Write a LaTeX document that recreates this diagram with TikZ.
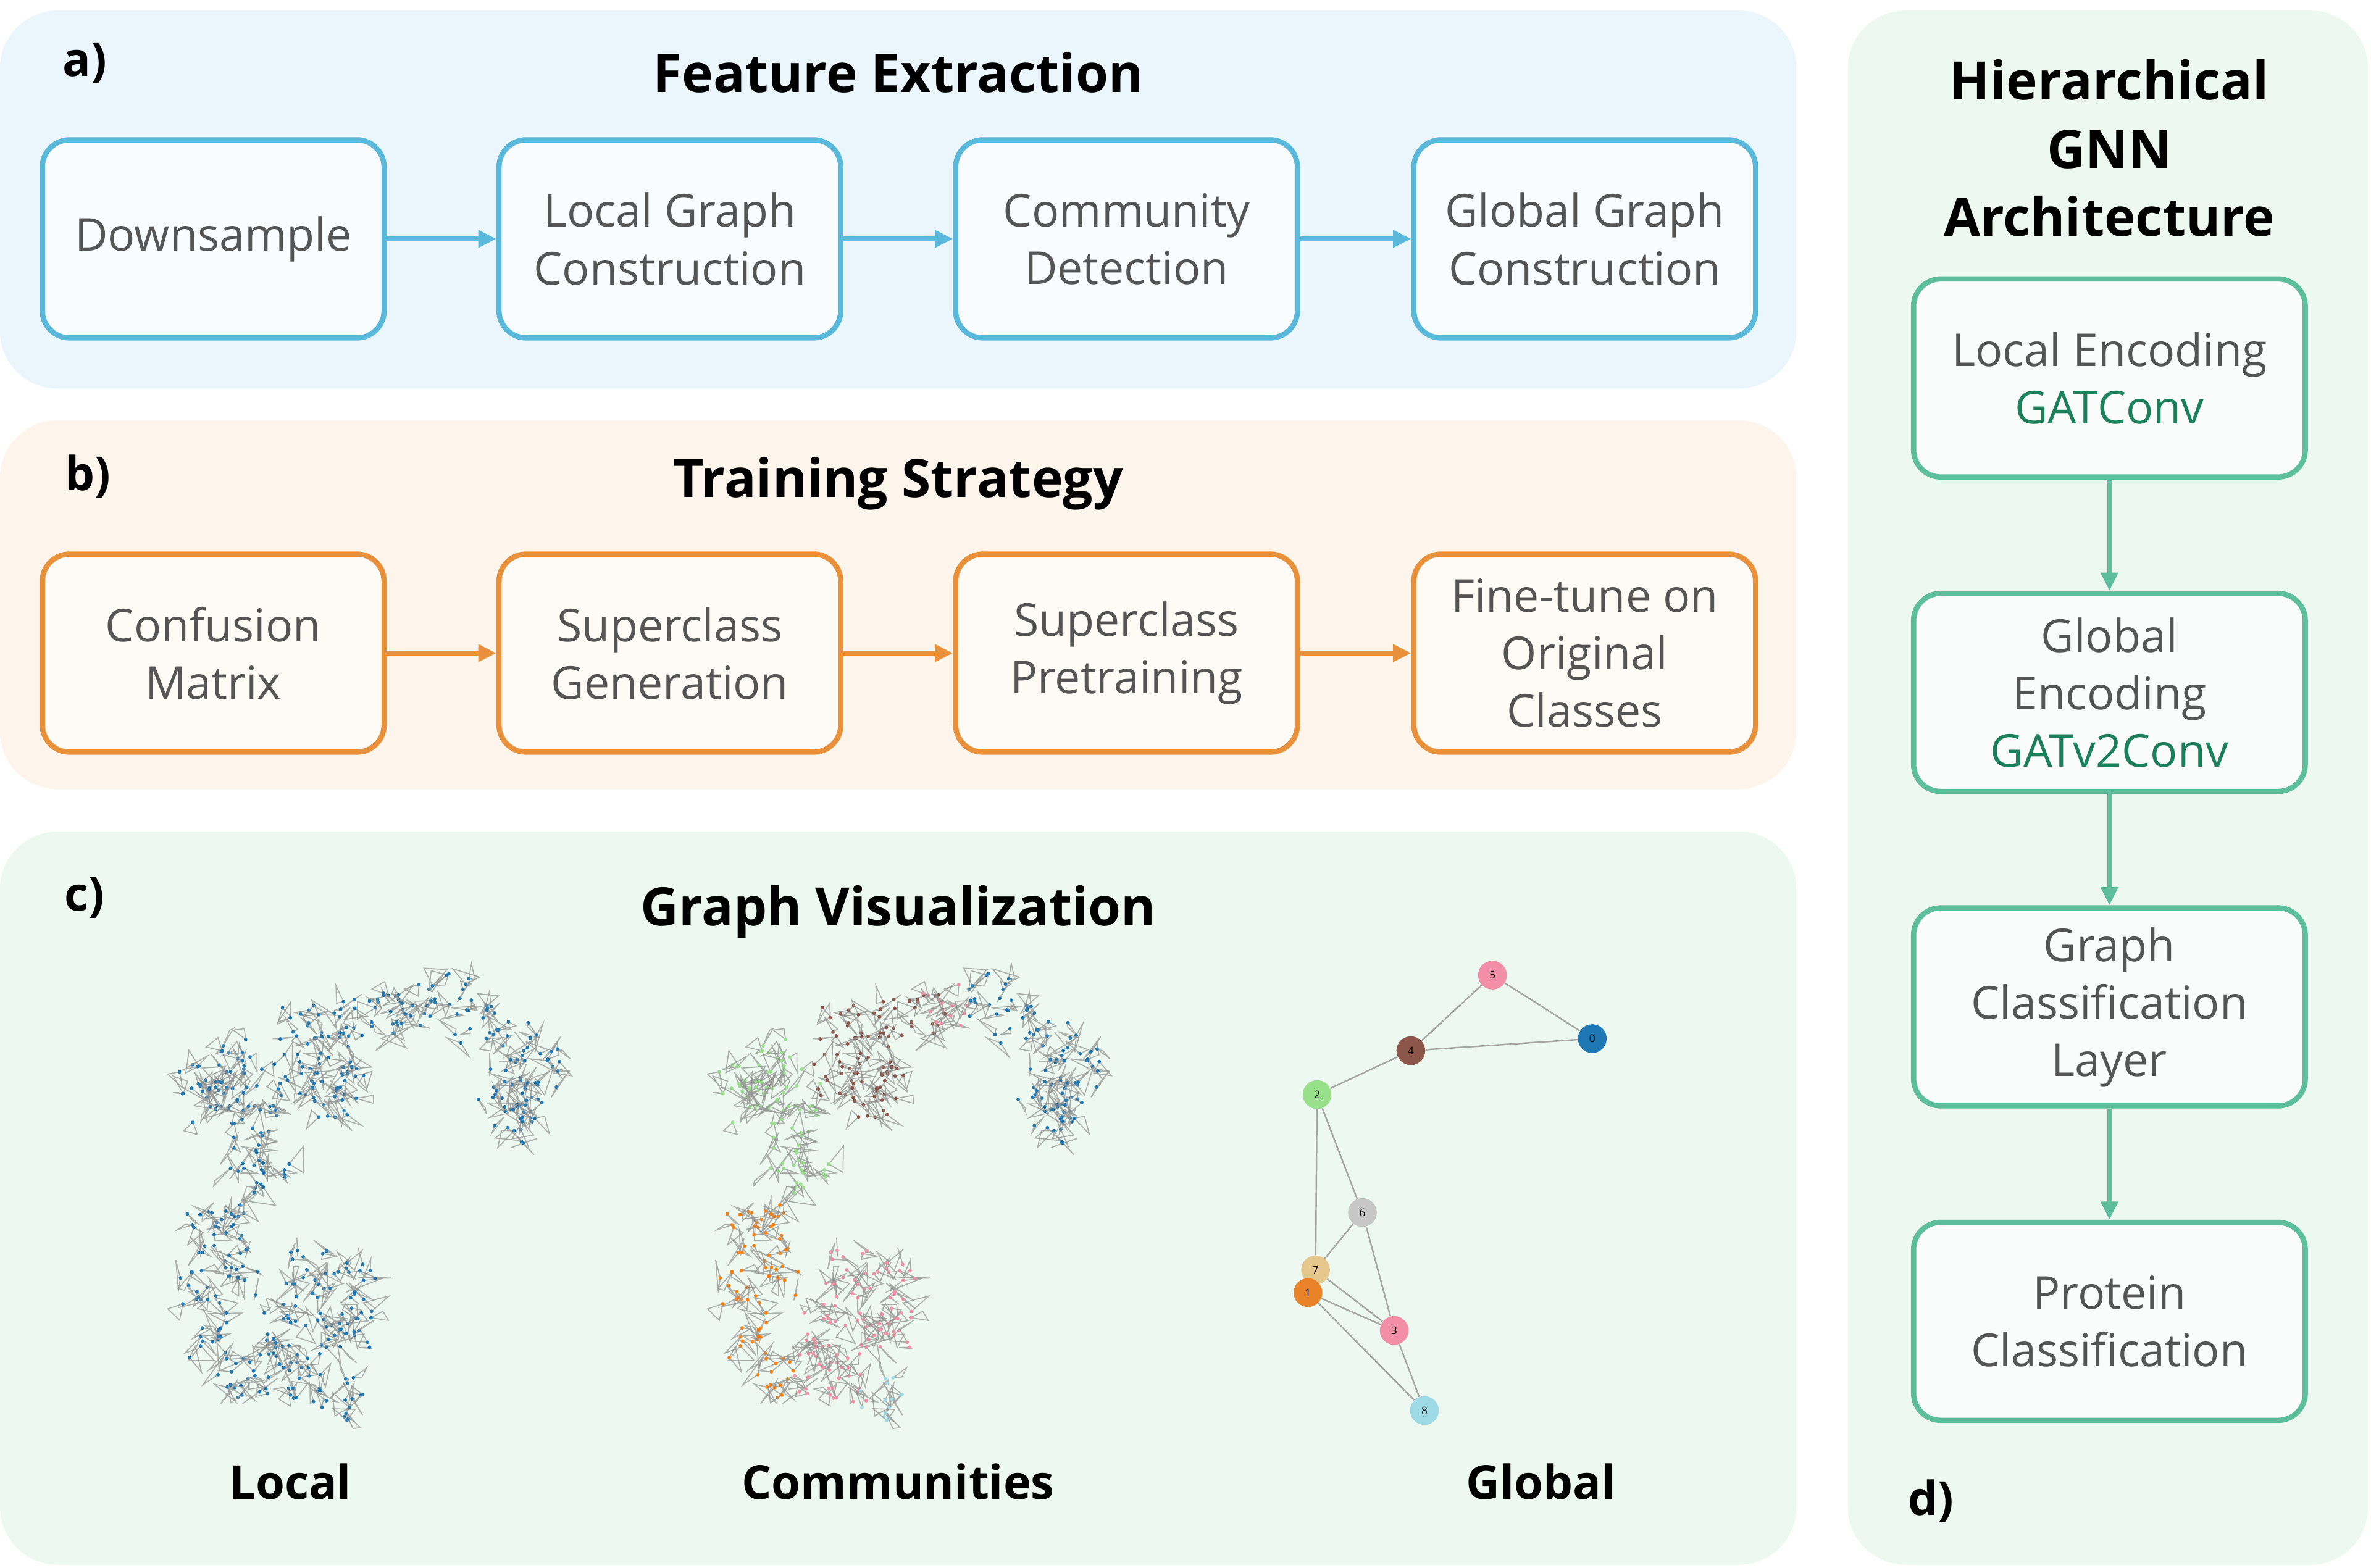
\documentclass[tikz,border=0pt]{standalone}
\usepackage{fontspec}
\setmainfont{Open Sans}
\usetikzlibrary{arrows.meta}
\definecolor{bA}{HTML}{5AB9DA}\definecolor{bAf}{HTML}{EAF6FB}
\definecolor{oB}{HTML}{E8913A}\definecolor{oBf}{HTML}{FDF5EC}
\definecolor{gC}{HTML}{5DBE9E}\definecolor{gCf}{HTML}{EDF9F0}
\definecolor{gT}{HTML}{1A7F5A}\definecolor{txt}{HTML}{555555}
\definecolor{cblue}{HTML}{1F77B4}\definecolor{corange}{HTML}{FF7F0E}
\definecolor{cgreen}{HTML}{98DF8A}\definecolor{cbrown}{HTML}{8C564B}
\definecolor{cpink}{HTML}{F28EA5}\definecolor{cgray}{HTML}{C7C7C7}
\definecolor{ctan}{HTML}{E6C88E}\definecolor{clblue}{HTML}{9EDAE5}
\definecolor{cdor}{HTML}{E8832A}
\tikzset{
 panel/.style={rounded corners=38pt},
 box/.style={draw, line width=3.5pt, rounded corners=18pt, fill=white!96!#1, minimum width=226pt, minimum height=131pt, align=center, text=txt, font=\fontsize{30}{38}\selectfont},
 title/.style={font=\fontsize{35}{45}\bfseries\selectfont, align=center},
 lab/.style={font=\fontsize{31}{34}\bfseries\selectfont},
 arr/.style={line width=3pt, -{Triangle[length=12pt,width=11pt]}},
 meshedge/.style={draw=gray!85, line width=0.7pt, opacity=0.7},
 gnode/.style={circle, minimum size=19pt, inner sep=0pt, font=\fontsize{7}{8}\selectfont},
 gedge/.style={draw=gray!70, line width=1pt},
}
\newcommand{\meshblob}[4]{%
 \foreach \k in {1,...,14}{%
  \pgfmathsetmacro\ax{#1+#3*rand}\pgfmathsetmacro\ay{#2+#3*rand}%
  \pgfmathsetmacro\bx{\ax+12*rand}\pgfmathsetmacro\by{\ay+12*rand}%
  \pgfmathsetmacro\cx{\ax+12*rand}\pgfmathsetmacro\cy{\ay+12*rand}%
  \draw[meshedge] (\bx,\by)--(\ax,\ay)--(\cx,\cy)--cycle;
  \fill[#4] (\ax,\ay) circle (1.2pt);
 }}
\begin{document}
\begin{tikzpicture}[x=1pt,y=-1pt]
\useasboundingbox (0,0) rectangle (1568,1037);
% panels
\fill[bAf,panel] (0,7) rectangle (1188,257);
\fill[oBf,panel] (0,278) rectangle (1188,522);
\fill[gCf,panel] (0,550) rectangle (1188,1035);
\fill[gCf,panel] (1222,7) rectangle (1566,1035);
% a
\node[lab] (la) at (56,42) {a)};
\node[title] (ta) at (594,48) {Feature Extraction};
\node[box=bA,draw=bA] (a1) at (141,158) {Downsample};
\node[box=bA,draw=bA] (a2) at (443,158) {Local Graph\\Construction};
\node[box=bA,draw=bA] (a3) at (745,158) {Community\\Detection};
\node[box=bA,draw=bA] (a4) at (1048,158) {Global Graph\\Construction};
\foreach \p/\q in {a1/a2,a2/a3,a3/a4} \draw[arr,bA] (\p) -- (\q);
% b
\node[lab] (lb) at (58,315) {b)};
\node[title] (tb) at (594,320) {Training Strategy};
\node[box=oB,draw=oB] (b1) at (141,432) {Confusion\\Matrix};
\node[box=oB,draw=oB] (b2) at (443,432) {Superclass\\Generation};
\node[box=oB,draw=oB] (b3) at (745,432) {Superclass\\Pretraining};
\node[box=oB,draw=oB] (b4) at (1048,432) {Fine-tune on\\Original\\Classes};
\foreach \p/\q in {b1/b2,b2/b3,b3/b4} \draw[arr,oB] (\p) -- (\q);
% c
\node[lab] (lc) at (56,594) {c)};
\node[title] (tc) at (594,603) {Graph Visualization};
\node[lab] (l1) at (192,980) {Local};
\node[lab] (l2) at (594,980) {Communities};
\node[lab] (l3) at (1019,980) {Global};
% mesh graphs
\def\blobs{507/720/cgreen,516/700/cgreen,498/730/cgreen,521/761/cgreen,538/775/cgreen,490/712/cgreen,528/728/cgreen,
 556/680/cbrown,574/700/cbrown,574/730/cbrown,593/676/cbrown,553/711/cbrown,611/673/cbrown,590/712/cbrown,
 625/665/cpink,
 653/659/cblue,671/675/cblue,698/690/cblue,713/705/cblue,698/741/cblue,687/720/cblue,713/730/cblue,
 507/812/corange,491/848/corange,492/883/corange,516/913/corange,520/842/corange,495/815/corange,
 562/842/cpink,543/883/cpink,580/883/cpink,593/879/cpink,562/913/cpink,553/862/cpink,590/850/cpink,540/910/cpink,
 582/925/clblue}
\pgfmathsetseed{7}
\foreach \x/\y/\c in \blobs {\meshblob{\x-357}{\y}{15}{cblue}}
\pgfmathsetseed{7}
\foreach \x/\y/\c in \blobs {\meshblob{\x}{\y}{15}{\c}}
% global graph
\node[gnode,fill=cpink] (g5) at (987,645) {5};
\node[gnode,fill=cblue] (g0) at (1053,687) {0};
\node[gnode,fill=cbrown] (g4) at (933,695) {4};
\node[gnode,fill=cgreen] (g2) at (871,724) {2};
\node[gnode,fill=cgray] (g6) at (901,802) {6};
\node[gnode,fill=ctan] (g7) at (870,840) {7};
\node[gnode,fill=cdor] (g1) at (865,855) {1};
\node[gnode,fill=cpink] (g3) at (922,880) {3};
\node[gnode,fill=clblue] (g8) at (942,933) {8};
\foreach \p/\q in {g5/g4,g5/g0,g4/g0,g4/g2,g2/g7,g2/g6,g6/g7,g6/g3,g7/g3,g1/g3,g1/g8,g3/g8}
  \draw[gedge] (\p) -- (\q);
% d
\node[title] (td) at (1395,98) {Hierarchical\\GNN\\Architecture};
\node[box=gC,draw=gC,minimum width=259pt] (d1) at (1395,250) {Local Encoding\\\textcolor{gT}{GATConv}};
\node[box=gC,draw=gC,minimum width=259pt] (d2) at (1395,458) {Global\\Encoding\\\textcolor{gT}{GATv2Conv}};
\node[box=gC,draw=gC,minimum width=259pt] (d3) at (1395,666) {Graph\\Classification\\Layer};
\node[box=gC,draw=gC,minimum width=259pt] (d4) at (1395,874) {Protein\\Classification};
\foreach \p/\q in {d1/d2,d2/d3,d3/d4} \draw[arr,gC] (\p) -- (\q);
\node[lab] (ld) at (1277,993) {d)};
\end{tikzpicture}
\end{document}
